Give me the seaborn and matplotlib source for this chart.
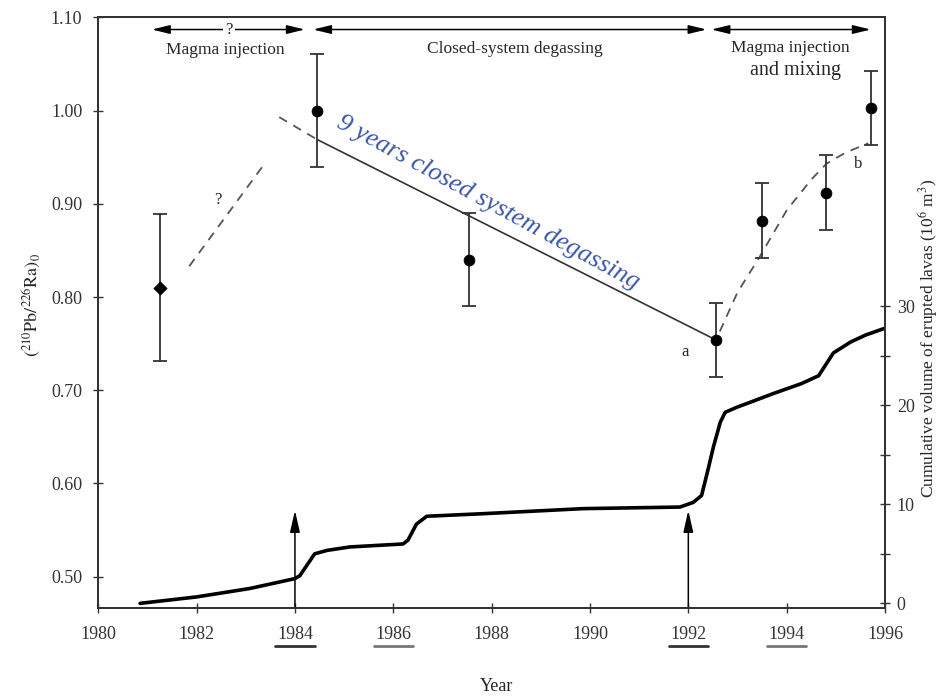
"""Pb-Ra disequilibrium vs erupted lava volume."""
import matplotlib
matplotlib.use("Agg")
import matplotlib.pyplot as plt
import seaborn as sns

# (210Pb/226Ra)0 measurements
sample_year = [1981.25, 1984.45, 1987.54, 1992.56, 1993.49, 1994.81, 1995.71]
pb_ra = [0.810, 1.000, 0.840, 0.754, 0.882, 0.912, 1.003]
pb_ra_err = [0.079, 0.061, 0.050, 0.040, 0.040, 0.040, 0.040]

# model trends
early_year = [1981.85, 1983.34]
early_val = [0.833, 0.940]
degas_dash_year = [1983.68, 1984.45]
degas_dash_val = [0.993, 0.969]
degas_year = [1984.45, 1992.56]
degas_val = [0.969, 0.754]
mixing_year = [1992.64, 1993.0, 1993.45, 1994.0, 1994.5, 1994.81, 1995.2, 1995.66]
mixing_val = [0.763, 0.805, 0.843, 0.893, 0.926, 0.943, 0.955, 0.965]

# cumulative volume of erupted lavas (10^6 m3)
lava_year = [1980.85, 1982.0, 1983.08, 1984.0, 1984.1, 1984.25, 1984.4, 1984.65,
             1985.12, 1986.2, 1986.3, 1986.47, 1986.68, 1987.83, 1989.86,
             1991.83, 1992.1, 1992.27, 1992.4, 1992.51, 1992.65, 1992.75,
             1992.98, 1993.25, 1993.73, 1994.3, 1994.65, 1994.95, 1995.3,
             1995.6, 1996.0]
lava_vol = [0.0, 0.65, 1.5, 2.5, 2.8, 3.9, 5.0, 5.35,
            5.7, 6.0, 6.4, 8.0, 8.8, 9.06, 9.57,
            9.73, 10.2, 10.9, 13.5, 15.8, 18.3, 19.3,
            19.8, 20.3, 21.2, 22.2, 23.0, 25.3, 26.4,
            27.1, 27.8]

injection_year = [1984, 1992]
underlined_year = [1984, 1986, 1992, 1994]
underline_color = ["#333333", "#777777", "#333333", "#777777"]

phase_start = [1981.09, 1984.37, 1992.47]
phase_end = [1984.2, 1992.37, 1995.71]
phase_label = ["Magma injection", "Closed-system degassing", "Magma injection"]

sns.set_theme(style="ticks")
plt.rcParams["font.family"] = ["Liberation Serif", "DejaVu Serif"]
plt.rcParams["mathtext.fontset"] = "stix"

fig = plt.figure(figsize=(9.44, 6.96), dpi=100)
ax = fig.add_axes([0.1041, 0.126, 0.8334, 0.849])
ax2 = ax.twinx()

# lava volume on right axis
sns.lineplot(x=lava_year, y=lava_vol, ax=ax2, color="black", lw=2.6, sort=False)
ax2.set_ylim(-0.5, 59.2)
ax2.set_yticks([0, 10, 20, 30])
ax2.set_yticks([5, 15, 25], minor=True)
ax2.tick_params(axis="y", which="both", direction="inout", length=7, width=1,
                labelsize=13, pad=5, colors="#333333")

# trends
sns.lineplot(x=early_year, y=early_val, ax=ax, color="#555555", lw=1.3,
             linestyle=(0, (5, 4)))
sns.lineplot(x=degas_dash_year, y=degas_dash_val, ax=ax, color="#555555", lw=1.3,
             linestyle=(0, (5, 4)))
sns.lineplot(x=degas_year, y=degas_val, ax=ax, color="#333333", lw=1.2)
sns.lineplot(x=mixing_year, y=mixing_val, ax=ax, color="#555555", lw=1.3,
             linestyle=(0, (5, 4)), sort=False)

# measurements
ax.errorbar(sample_year, pb_ra, yerr=pb_ra_err, fmt="none", ecolor="#333333",
            elinewidth=1.3, capsize=5, capthick=1.3)
sns.scatterplot(x=sample_year[:1], y=pb_ra[:1], ax=ax, marker="D", s=45,
                color="black", edgecolor="black", zorder=5)
sns.scatterplot(x=sample_year[1:], y=pb_ra[1:], ax=ax, marker="o", s=60,
                color="black", edgecolor="black", zorder=5)

ax.set_xlim(1980, 1996)
ax.set_ylim(0.466, 1.10)
ax.set_xticks(range(1980, 1997, 2))
ax.set_yticks([0.5, 0.6, 0.7, 0.8, 0.9, 1.0, 1.1])
ax.set_yticklabels([f"{v:.2f}" for v in [0.5, 0.6, 0.7, 0.8, 0.9, 1.0, 1.1]])
ax.tick_params(axis="x", direction="inout", length=7, width=1, labelsize=13,
               pad=9, colors="#333333")
ax.tick_params(axis="y", direction="inout", length=7, width=1, labelsize=13,
               pad=8, colors="#333333")
for a in (ax, ax2):
    for sp in a.spines.values():
        sp.set_color("#333333")
        sp.set_linewidth(1.4)
        sp.set_visible(True)

# underlined years
for yr, c in zip(underlined_year, underline_color):
    ax.plot([yr - 0.4, yr + 0.4], [-0.064, -0.064], color=c, lw=2,
            transform=ax.get_xaxis_transform(), clip_on=False)

# injection arrows
for yr in injection_year:
    ax.annotate("", xy=(yr, 0.571), xytext=(yr, 0.466),
                arrowprops=dict(arrowstyle="-|>,head_length=1.1,head_width=0.25",
                                color="black", lw=1.1, shrinkA=0, shrinkB=0))

# phase arrows on top
for x0, x1 in zip(phase_start, phase_end):
    ax.annotate("", xy=(x1, 1.087), xytext=(x0, 1.087),
                arrowprops=dict(arrowstyle="<|-|>,head_length=0.9,head_width=0.22",
                                color="black", lw=1.1, shrinkA=0, shrinkB=0))
ax.text(1982.66, 1.087, "?", ha="center", va="center", fontsize=12,
        bbox=dict(facecolor="white", edgecolor="none", pad=1.5))
ax.text(1982.58, 1.065, phase_label[0], ha="center", va="center", fontsize=12.5)
ax.text(1988.47, 1.066, phase_label[1], ha="center", va="center", fontsize=12.5)
ax.text(1994.07, 1.067, phase_label[2], ha="center", va="center", fontsize=12.5)
ax.text(1994.17, 1.043, "and mixing", ha="center", va="center", fontsize=14.5)

ax.text(1982.44, 0.904, "?", ha="center", va="center", fontsize=12)
ax.text(1991.93, 0.741, "a", ha="center", va="center", fontsize=12)
ax.text(1995.46, 0.943, "b", ha="center", va="center", fontsize=12)

ax.text(1987.93, 0.901, "9 years closed system degassing", color="#3a55a8",
        fontsize=19, style="italic", rotation=-28.5, rotation_mode="anchor",
        ha="center", va="center")

fig.text(0.034, 0.562, r"$(^{210}\mathrm{Pb}/^{226}\mathrm{Ra})_0$", rotation=90,
         ha="center", va="center", fontsize=13)
fig.text(0.983, 0.514, r"Cumulative volume of erupted lavas (10$^6$ m$^3$)",
         rotation=90, ha="center", va="center", fontsize=12.5)
fig.text(0.526, 0.013, "Year", ha="center", va="center", fontsize=13)

fig.savefig("out.png", dpi=100)
